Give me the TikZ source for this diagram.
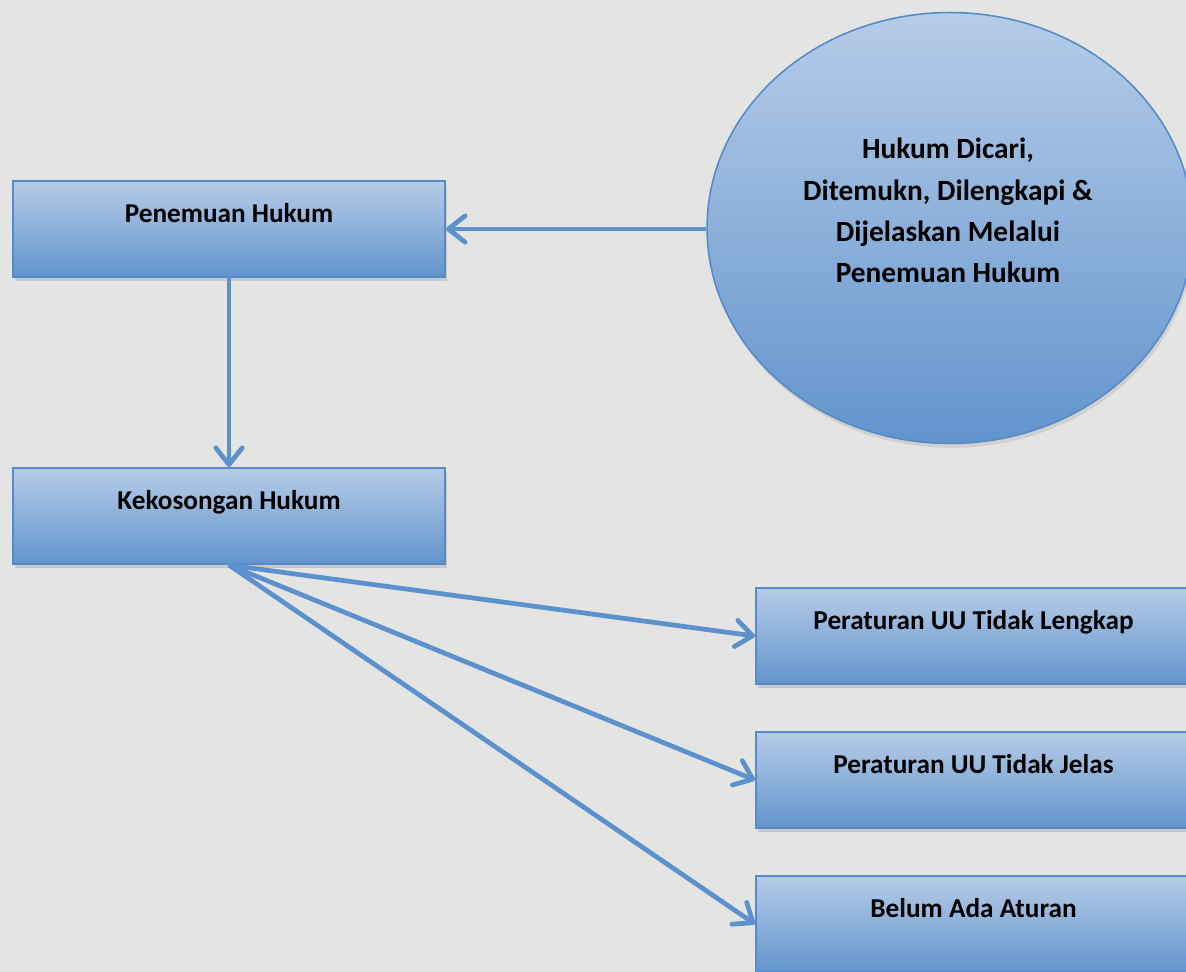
\documentclass[tikz,border=0pt]{standalone}
\usepackage{fontspec}
\setmainfont{Carlito}
\usetikzlibrary{arrows.meta, shapes.geometric, shadows}

\definecolor{birumuda}{RGB}{182,204,232}
\definecolor{birutua}{RGB}{98,148,204}
\definecolor{garisbiru}{RGB}{84,139,202}
\definecolor{panahbiru}{RGB}{91,146,206}
\definecolor{latar}{RGB}{228,228,226}

\tikzset{
  kotak/.style={draw=garisbiru, line width=1.2pt, top color=birumuda, bottom color=birutua,
    minimum width=8.64cm, inner xsep=0pt, inner ysep=0pt, text height=0.82cm, text depth=1.1cm,
    font=\fontsize{15.5}{18}\selectfont\bfseries,
    drop shadow={shadow xshift=1pt, shadow yshift=-2.5pt, opacity=0.25}},
  bulat/.style={ellipse, draw=garisbiru, line width=0.9pt, top color=birumuda, bottom color=birutua,
    minimum width=9.72cm, minimum height=8.62cm, inner sep=0pt,
    drop shadow={shadow xshift=1pt, shadow yshift=-2.5pt, opacity=0.2}},
  teks/.style={align=center, inner sep=0pt, font=\fontsize{16.7}{23.4}\selectfont\bfseries},
  panah/.style={draw=panahbiru, line width=2.7pt, -{Straight Barb[length=9.5pt, width=15pt, round]}}
}

\begin{document}
\begin{tikzpicture}[x=0.02cm, y=-0.02cm]

% latar
\fill[latar] (0,0) rectangle (1186,972);
\useasboundingbox (0,0) rectangle (1186,972);

% kotak kiri
\node[kotak, anchor=north west] (penemuan) at (12,180) {Penemuan Hukum};
\node[kotak, anchor=north west] (kosong) at (12,467) {Kekosongan Hukum};

% lingkaran
\node[bulat] (lingkaran) at (950,228) {};
\node[teks, anchor=north] (lingkarantxt) at (948,138)
  {Hukum Dicari,\\ Ditemukn, Dilengkapi \&\\ Dijelaskan Melalui\\ Penemuan Hukum};

% kotak kanan
\node[kotak, anchor=north west, minimum width=8.7cm] (lengkap) at (755,587) {Peraturan UU Tidak Lengkap};
\node[kotak, anchor=north west, minimum width=8.7cm] (jelas) at (755,731) {Peraturan UU Tidak Jelas};
\node[kotak, anchor=north west, minimum width=8.7cm] (aturan) at (755,875) {Belum Ada Aturan};

% panah
\draw[panah] (lingkaran.west |- penemuan.east) -- (penemuan.east);
\draw[panah] (penemuan.south) -- (kosong.north);
\draw[panah] (kosong.south) -- (lengkap.west);
\draw[panah] (kosong.south) -- (jelas.west);
\draw[panah] (kosong.south) -- (aturan.west);

\end{tikzpicture}
\end{document}
